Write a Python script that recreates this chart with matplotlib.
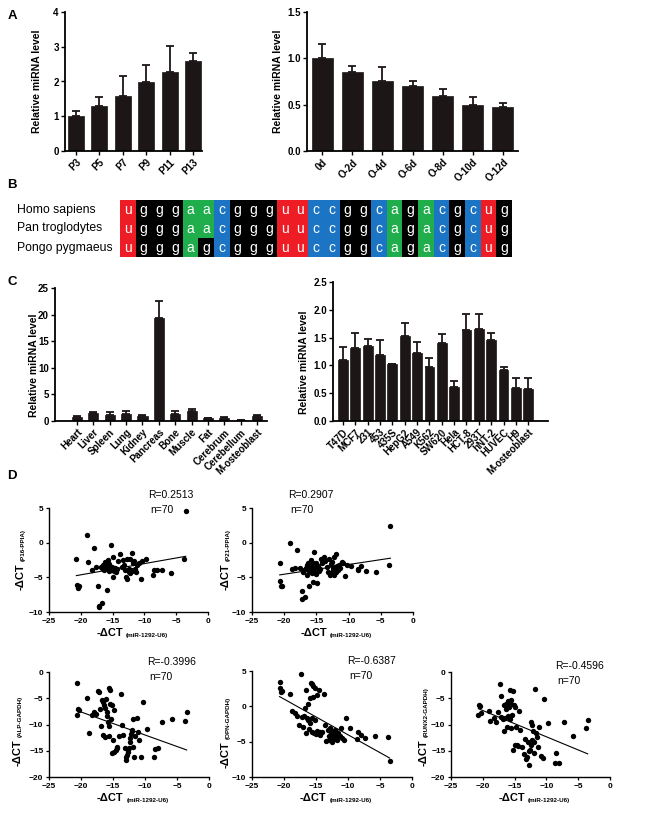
import numpy as np
import matplotlib
matplotlib.use('Agg')
import matplotlib.pyplot as plt
from matplotlib.transforms import blended_transform_factory

plt.rcParams['font.family'] = 'Liberation Sans'
plt.rcParams['font.size'] = 7
plt.rcParams['axes.linewidth'] = 1.1
plt.rcParams['xtick.major.width'] = 1.0
plt.rcParams['ytick.major.width'] = 1.0
plt.rcParams['xtick.major.size'] = 3
plt.rcParams['ytick.major.size'] = 3

# ---- data ----
# A: passage / osteogenic time course
a1_labels = ['P3', 'P5', 'P7', 'P9', 'P11', 'P13']
a1_vals = [1.0, 1.3, 1.59, 1.98, 2.28, 2.58]
a1_errs = [0.14, 0.25, 0.58, 0.5, 0.74, 0.23]

a2_labels = ['0d', 'O-2d', 'O-4d', 'O-6d', 'O-8d', 'O-10d', 'O-12d']
a2_vals = [1.0, 0.85, 0.76, 0.70, 0.59, 0.50, 0.48]
a2_errs = [0.15, 0.07, 0.15, 0.06, 0.08, 0.08, 0.04]

# B: sequence alignment
species = ['Homo sapiens', 'Pan troglodytes', 'Pongo pygmaeus']
seqs = ['ugggaacggguuccggcagacgcug',
        'ugggaacggguuccggcagacgcug',
        'ugggagcggguuccggcagacgcug']
base_colors = {'u': '#ee1c24', 'g': '#000000', 'a': '#1fae4b', 'c': '#1b75c4'}

# C: tissues and cell lines
c1_labels = ['Heart', 'Liver', 'Spleen', 'Lung', 'Kidney', 'Pancreas', 'Bone',
             'Muscle', 'Fat', 'Cerebrum', 'Cerebellum', 'M-osteoblast']
c1_vals = [0.8, 1.5, 1.1, 1.3, 1.0, 19.3, 1.4, 1.9, 0.5, 0.6, 0.15, 1.0]
c1_errs = [0.1, 0.2, 0.5, 0.5, 0.15, 3.3, 0.4, 0.3, 0.15, 0.1, 0.05, 0.15]

c2_labels = ['T47D', 'MCF7', '231', '453', '435S', 'HepG2', 'A549', 'K562', 'SW620',
             'Hela', 'HCT-8', '293T', 'hNT-2', 'HUVEC', 'H9', 'M-osteoblast']
c2_vals = [1.10, 1.31, 1.35, 1.19, 1.02, 1.53, 1.23, 0.98, 1.40,
           0.62, 1.64, 1.66, 1.45, 0.92, 0.60, 0.58]
c2_errs = [0.23, 0.28, 0.13, 0.26, 0.01, 0.24, 0.19, 0.15, 0.16,
           0.10, 0.29, 0.27, 0.13, 0.05, 0.17, 0.20]

# D: correlations, x = -dCT(miR-1292-U6)
mir_dct = [-20.7, -20.6, -20.5, -20.3, -19.1, -18.8, -18.3, -18.0, -17.6, -17.3,
           -17.2, -17.1, -16.9, -16.7, -16.6, -16.5, -16.4, -16.3, -16.2, -16.1,
           -16.0, -15.9, -15.8, -15.7, -15.6, -15.6, -15.5, -15.4, -15.3, -15.2,
           -15.1, -15.0, -14.9, -14.8, -14.6, -14.4, -14.3, -14.1, -13.8, -13.6,
           -13.4, -13.2, -13.0, -12.9, -12.8, -12.7, -12.6, -12.5, -12.4, -12.3,
           -12.2, -12.1, -12.0, -11.9, -11.8, -11.7, -11.5, -11.3, -11.1, -10.9,
           -10.6, -10.3, -9.7, -8.6, -8.5, -8.0, -7.3, -5.8, -3.8, -3.5]

p16_dct = [-2.3, -6.1, -6.6, -6.3, 1.1, -2.8, -3.9, -0.8, -3.5, -6.3,
           -9.3, -9.1, -3.5, -3.6, -8.7, -3.2, -3.8, -4.0, -2.8, -3.4,
           -3.6, -6.8, -2.5, -3.0, -3.4, -4.1, -3.1, -3.6, -0.3, -3.9,
           -3.5, -2.1, -4.9, -4.1, -3.6, -4.2, -3.8, -2.6, -1.6, -3.5,
           -2.5, -3.2, -3.9, -5.0, -5.2, -2.3, -4.0, -4.2, -3.8, -2.3,
           -4.4, -3.9, -4.1, -1.5, -3.0, -2.7, -3.8, -4.3, -3.2, -2.9,
           -5.2, -2.7, -2.4, -4.6, -4.0, -4.0, -4.0, -4.4, -2.3, 4.5]

p21_dct = [-5.6, -2.9, -6.3, -6.2, -0.1, -3.8, -3.6, -1.1, -3.7, -7.0,
           -8.1, -4.2, -4.0, -7.9, -3.6, -4.6, -3.2, -2.9, -4.1, -6.3,
           -3.7, -2.5, -3.3, -4.4, -3.9, -5.7, -3.0, -1.4, -4.0, -3.6,
           -2.9, -4.5, -5.8, -3.3, -4.1, -3.8, -2.4, -3.0, -2.1, -2.6,
           -3.5, -4.3, -2.3, -4.7, -3.1, -4.4, -2.8, -3.7, -4.0, -2.1,
           -4.6, -3.5, -1.6, -4.2, -3.4, -3.9, -3.2, -3.6, -2.8, -3.0,
           -4.8, -3.2, -3.3, -3.8, -3.9, -3.4, -4.1, -4.3, -3.2, 2.4]

alp_dct = [-2.1, -8.2, -7.0, -7.2, -4.9, -11.7, -8.2, -7.6, -8.0, -3.6,
           -3.9, -7.1, -10.2, -5.3, -12.0, -5.7, -6.3, -6.8, -12.4, -5.1,
           -8.4, -7.6, -9.5, -12.1, -3.0, -10.3, -3.5, -6.0, -9.0, -15.5,
           -6.2, -13.0, -15.2, -7.3, -14.9, -14.5, -14.2, -12.1, -4.1, -10.1,
           -12.0, -14.4, -16.2, -16.7, -15.9, -14.6, -15.2, -14.5, -12.6, -13.3,
           -11.9, -11.3, -11.1, -8.9, -14.3, -16.1, -12.2, -8.8, -11.5, -13.0,
           -16.1, -5.7, -10.9, -16.1, -14.7, -14.5, -9.5, -9.0, -9.3, -7.7]

opn_dct = [3.5, 2.6, 2.0, 2.2, 1.7, -0.7, -1.0, -1.3, -2.7, 4.6,
           -1.5, -2.9, -1.4, -0.3, 2.3, -3.8, -1.6, 0.4, -1.9, -3.2,
           1.2, -2.3, 3.3, -1.6, 3.1, -3.7, 2.9, 1.3, -3.8, -2.0,
           2.6, -3.9, 1.6, -3.5, 2.3, -3.7, -4.1, -3.6, 1.8, -2.7,
           -4.9, -3.4, -4.7, -4.2, -3.0, -3.8, -4.4, -5.0, -3.5, -4.0,
           -4.6, -3.3, -3.9, -4.3, -3.6, -4.8, -3.8, -4.2, -3.1, -4.5,
           -4.7, -1.6, -3.0, -4.6, -3.6, -4.1, -4.5, -4.2, -4.4, -7.7]

runx2_dct = [-8.1, -6.3, -6.4, -7.9, -7.4, -9.3, -8.8, -9.5, -7.7, -2.2,
             -4.5, -8.6, -9.0, -11.2, -6.3, -8.8, -6.0, -7.0, -10.5, -5.5,
             -8.4, -6.6, -9.0, -3.5, -6.1, -10.7, -5.4, -8.1, -3.6, -14.9,
             -6.3, -6.6, -13.9, -10.4, -13.9, -14.0, -7.4, -11.1, -14.3, -15.7,
             -12.8, -16.6, -16.2, -13.3, -17.7, -15.0, -14.8, -13.9, -9.5, -12.9,
             -10.0, -11.3, -15.4, -13.4, -3.3, -11.6, -12.4, -14.2, -10.5, -16.0,
             -16.3, -5.2, -9.8, -17.4, -15.4, -17.4, -9.5, -12.2, -10.7, -9.1]

r_values = ['R=0.2513', 'R=0.2907', 'R=-0.3996', 'R=-0.6387', 'R=-0.4596']

# ---- figure ----
W, H = 646, 813
fig = plt.figure(figsize=(W / 100, H / 100), dpi=100)
BAR = '#1c1616'


def add_ax(l, t, r, b):
    return fig.add_axes([l / W, 1 - b / H, (r - l) / W, (b - t) / H])


def fig_xy(x, y):
    return x / W, 1 - y / H


def bar_panel(ax, labels, vals, errs, width, xlim, ylim, yticks, fmt, fs=7):
    x = np.arange(len(vals))
    ax.bar(x, vals, width=width, color=BAR, edgecolor=BAR, linewidth=0.5)
    ax.errorbar(x, vals, yerr=[np.zeros(len(errs)), errs], fmt='none',
                ecolor=BAR, elinewidth=1.3, capsize=2.8, capthick=1.3)
    ax.set_xlim(*xlim)
    ax.set_ylim(*ylim)
    ax.set_yticks(yticks)
    ax.set_yticklabels([fmt.format(v) for v in yticks], fontweight='bold', fontsize=7)
    ax.set_xticks(x)
    ax.set_xticklabels(labels, rotation=45, ha='right', rotation_mode='anchor',
                       fontweight='bold', fontsize=fs)
    for s in ['top', 'right']:
        ax.spines[s].set_visible(False)
    ax.spines['left'].set_linewidth(1.3)
    ax.spines['bottom'].set_linewidth(1.3)
    ax.tick_params(direction='out', length=3, pad=1.5)
    ax.set_ylabel('Relative miRNA level', fontweight='bold', fontsize=7.5)


# panel A
ax = add_ax(65, 12, 202, 151)
bar_panel(ax, a1_labels, a1_vals, a1_errs, 0.68, (-0.47, 5.38), (0, 4),
          [0, 1, 2, 3, 4], '{:.0f}')
ax.yaxis.set_label_coords((42 - 65) / 137, 0.5)

ax = add_ax(307, 12, 518, 151)
bar_panel(ax, a2_labels, a2_vals, a2_errs, 0.7, (-0.5, 6.5), (0, 1.5),
          [0, 0.5, 1.0, 1.5], '{:.1f}')
ax.yaxis.set_label_coords((283 - 307) / 211, 0.5)

# panel B
ax = add_ax(120, 200, 512, 257)
for i, seq in enumerate(seqs):
    cols = [base_colors[ch] for ch in seq]
    ax.bar(np.arange(len(seq)), 1, bottom=i, width=1, align='edge', color=cols)
    for j, ch in enumerate(seq):
        ax.text(j + 0.5, i + 0.55, ch, color='white', fontsize=10,
                ha='center', va='center')
ax.set_xlim(0, len(seqs[0]))
ax.set_ylim(len(seqs), 0)
ax.axis('off')
tr = blended_transform_factory(fig.transFigure, ax.transData)
for i, name in enumerate(species):
    ax.text(17 / W, i + 0.5, name, transform=tr, fontsize=8.8, ha='left', va='center')

# panel C
ax = add_ax(55, 288, 267, 421)
bar_panel(ax, c1_labels, c1_vals, c1_errs, 0.62, (-1.34, 11.6), (0, 25),
          [0, 5, 10, 15, 20, 25], '{:.0f}')
ax.yaxis.set_label_coords((39 - 55) / 212, 0.42)

ax = add_ax(333, 282, 548, 421)
bar_panel(ax, c2_labels, c2_vals, c2_errs, 0.8, (-0.81, 16.6), (0, 2.5),
          [0, 0.5, 1.0, 1.5, 2.0, 2.5], '{:.1f}')
ax.yaxis.set_label_coords((309 - 333) / 215, 0.42)

# panel D
def delta_label(ax, sub, x_px, y_px, vertical):
    x, y = fig_xy(x_px, y_px)
    if vertical:
        main = fig.text(x, y, '-ΔCT', fontsize=8, fontweight='bold', rotation=90,
                        ha='center', va='bottom')
        ax.annotate(sub, xy=(1, 1), xycoords=main, xytext=(0, 2),
                    textcoords='offset points', rotation=90, fontsize=4.5,
                    fontweight='bold', ha='right', va='bottom', annotation_clip=False)
    else:
        main = fig.text(x, y, '-ΔCT', fontsize=8, fontweight='bold',
                        ha='left', va='center')
        ax.annotate(sub, xy=(1, 0), xycoords=main, xytext=(2, 0),
                    textcoords='offset points', fontsize=4.5,
                    fontweight='bold', ha='left', va='bottom', annotation_clip=False)


scatter_specs = [
    (p16_dct, (49, 508, 208, 612), (-10, 5), '(P16-PPIA)', r_values[0], (148, 495), 21, 590),
    (p21_dct, (252, 508, 413, 612), (-10, 5), '(P21-PPIA)', r_values[1], (288, 495), 226, 590),
    (alp_dct, (49, 672, 209, 777), (-20, 0), '(ALP-GAPDH)', r_values[2], (147, 662), 18, 766),
    (opn_dct, (252, 671, 412, 777), (-10, 5), '(OPN-GAPDH)', r_values[3], (347, 661), 226, 768),
    (runx2_dct, (451, 672, 610, 777), (-20, 0), '(RUNX2-GAPDH)', r_values[4], (555, 666), 424, 766),
]

xs = np.array(mir_dct)
for ys, (l, t, r, b), ylim, sub, rtxt, (tx, ty), lx, ly in scatter_specs:
    ax = add_ax(l, t, r, b)
    ys = np.array(ys)
    ax.scatter(xs, ys, s=15, color='black', linewidths=0, zorder=3)
    k, c0 = np.polyfit(xs, ys, 1)
    fx = np.array([xs.min(), xs.max()])
    ax.plot(fx, k * fx + c0, color='black', lw=0.8)
    ax.set_xlim(-25, 0)
    ax.set_ylim(*ylim)
    ax.set_xticks([-25, -20, -15, -10, -5, 0])
    ax.set_yticks(np.arange(ylim[0], ylim[1] + 1, 5))
    for s in ['top', 'right']:
        ax.spines[s].set_visible(False)
    ax.spines['left'].set_linewidth(1.0)
    ax.spines['bottom'].set_linewidth(1.0)
    ax.tick_params(direction='out', length=2.5, width=0.9, labelsize=6, pad=1.5)
    for lab in ax.get_xticklabels() + ax.get_yticklabels():
        lab.set_fontweight('bold')
    ax.text(*fig_xy(tx, ty), rtxt, transform=fig.transFigure, fontsize=7.5,
            ha='left', va='center')
    ax.text(*fig_xy(tx + 2, ty + 15), 'n=70', transform=fig.transFigure, fontsize=7.5,
            ha='left', va='center')
    delta_label(ax, sub, lx, ly, True)
    delta_label(ax, '(miR-1292-U6)', l + (r - l) * 0.3, b + 21, False)

# panel letters
for letter, (px, py) in zip('ABCD', [(12, 16), (12, 185), (12, 282), (12, 476)]):
    fig.text(*fig_xy(px, py), letter, fontsize=9.5, fontweight='bold',
             ha='center', va='center')

fig.savefig('out.png', dpi=100)
